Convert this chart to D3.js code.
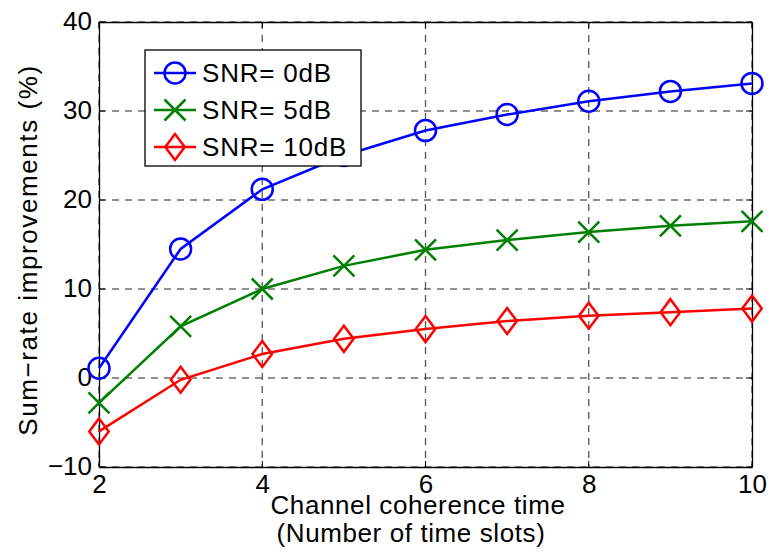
<!DOCTYPE html>
<html><head><meta charset="utf-8">
<script src="https://cdn.jsdelivr.net/npm/d3@7"></script>
<style>body{margin:0;background:#fff}</style>
</head><body><svg id="c" width="771" height="554"></svg>
<script>
const xs = [2,3,4,5,6,7,8,9,10];
const snr0 = [1.1,14.5,21.2,25.0,27.8,29.6,31.1,32.2,33.1];
const snr5 = [-2.8,5.8,10.0,12.6,14.4,15.5,16.4,17.1,17.6];
const snr10 = [-6.0,-0.2,2.7,4.4,5.5,6.4,7.0,7.4,7.8];
const xTicks = [2,4,6,8,10];
const yTicks = [-10,0,10,20,30,40];
const names = ["SNR= 0dB","SNR= 5dB","SNR= 10dB"];
const colors = ["#0000ff","#008000","#ff0000"];
const markers = ["circle","x","diamond"];

const svg = d3.select("#c");
const L=99,R=752,T=22,B=467;
const x = d3.scaleLinear().domain([2,10]).range([L,R]);
const y = d3.scaleLinear().domain([-10,40]).range([B,T]);
const font = "Liberation Sans, Arial, sans-serif";

svg.append("rect").attr("x",L).attr("y",T).attr("width",R-L).attr("height",B-T).attr("fill","#fff");
// grid
const g = svg.append("g");
g.selectAll(".vg").data(xTicks).enter().append("line")
 .attr("x1",d=>x(d)).attr("x2",d=>x(d)).attr("y1",T).attr("y2",B)
 .attr("stroke","#555").attr("stroke-width",1.3).attr("stroke-dasharray","7,6");
g.selectAll(".hg").data(yTicks).enter().append("line")
 .attr("x1",L).attr("x2",R).attr("y1",d=>y(d)).attr("y2",d=>y(d))
 .attr("stroke","#222").attr("stroke-width",1.1).attr("stroke-dasharray","7,6");

// axes
const xa = svg.append("g").attr("transform",`translate(0,${B})`).call(d3.axisBottom(x).tickValues(xTicks).tickSize(0).tickPadding(8));
const xa2 = svg.append("g").attr("transform",`translate(0,${T})`).call(d3.axisTop(x).tickValues(xTicks).tickSize(0).tickFormat(""));
const ya = svg.append("g").attr("transform",`translate(${L},0)`).call(d3.axisLeft(y).tickValues(yTicks).tickSize(0).tickPadding(7).tickFormat(d=>d<0?"\u2212"+Math.abs(d):d));
const ya2 = svg.append("g").attr("transform",`translate(${R},0)`).call(d3.axisRight(y).tickValues(yTicks).tickSize(0).tickFormat(""));
[xa,xa2,ya,ya2].forEach(a=>{a.select(".domain").attr("stroke","#000").attr("stroke-width",1.3);
 a.selectAll("text").attr("font-family",font).attr("font-size",26).attr("fill","#000");});
xa.selectAll("text").attr("dy","0.70em");
ya.selectAll("text").attr("dy","0.28em");
// tick marks inward
svg.append("g").selectAll("line").data(xTicks).enter().append("line")
 .attr("x1",d=>x(d)).attr("x2",d=>x(d)).attr("y1",B).attr("y2",B-6).attr("stroke","#000");
svg.append("g").selectAll("line").data(xTicks).enter().append("line")
 .attr("x1",d=>x(d)).attr("x2",d=>x(d)).attr("y1",T).attr("y2",T+6).attr("stroke","#000");
svg.append("g").selectAll("line").data(yTicks).enter().append("line")
 .attr("x1",L).attr("x2",L+6).attr("y1",d=>y(d)).attr("y2",d=>y(d)).attr("stroke","#000");
svg.append("g").selectAll("line").data(yTicks).enter().append("line")
 .attr("x1",R).attr("x2",R-6).attr("y1",d=>y(d)).attr("y2",d=>y(d)).attr("stroke","#000");

function drawMarker(sel, type, color, cx, cy){
  if(type==="circle") sel.append("circle").attr("cx",cx).attr("cy",cy).attr("r",10.5).attr("fill","none").attr("stroke",color).attr("stroke-width",2.5);
  else if(type==="x"){ const s=10.5;
    sel.append("path").attr("d",`M${cx-s},${cy-s}L${cx+s},${cy+s}M${cx-s},${cy+s}L${cx+s},${cy-s}`).attr("stroke",color).attr("stroke-width",2.5);}
  else { const s=13;
    sel.append("path").attr("d",`M${cx},${cy-s}L${cx+s*0.75},${cy}L${cx},${cy+s}L${cx-s*0.75},${cy}Z`).attr("fill","none").attr("stroke",color).attr("stroke-width",2.5);}
}
const series=[snr0,snr5,snr10];
const line = d3.line().x((d,i)=>x(xs[i])).y(d=>y(d));
series.forEach((s,k)=>{
  const sg = svg.append("g");
  sg.append("path").datum(s).attr("d",line).attr("fill","none").attr("stroke",colors[k]).attr("stroke-width",2.5);
  s.forEach((v,i)=>drawMarker(sg,markers[k],colors[k],x(xs[i]),y(v)));
});

// legend
const lg = svg.append("g");
lg.append("rect").attr("x",145).attr("y",50).attr("width",216).attr("height",116).attr("fill","#fff").attr("stroke","#000").attr("stroke-width",1.3);
names.forEach((n,k)=>{
  const yy = 73 + k*37;
  lg.append("line").attr("x1",154).attr("x2",196).attr("y1",yy).attr("y2",yy).attr("stroke",colors[k]).attr("stroke-width",2.5);
  drawMarker(lg,markers[k],colors[k],175,yy);
  lg.append("text").attr("x",202).attr("y",yy).attr("dy","0.36em").attr("font-family",font).attr("font-size",26).attr("letter-spacing",0.8).text(n);
});

// labels
svg.append("text").attr("x",418).attr("y",514).attr("text-anchor","middle").attr("font-family",font).attr("font-size",26).attr("letter-spacing",0.6).text("Channel coherence time");
svg.append("text").attr("x",411).attr("y",542).attr("text-anchor","middle").attr("font-family",font).attr("font-size",26).attr("letter-spacing",0.6).text("(Number of time slots)");
svg.append("text").attr("transform","translate(37,250) rotate(-90)").attr("text-anchor","middle").attr("font-family",font).attr("font-size",26).attr("letter-spacing",1.6).text("Sum−rate improvements (%)");
</script></body></html>
